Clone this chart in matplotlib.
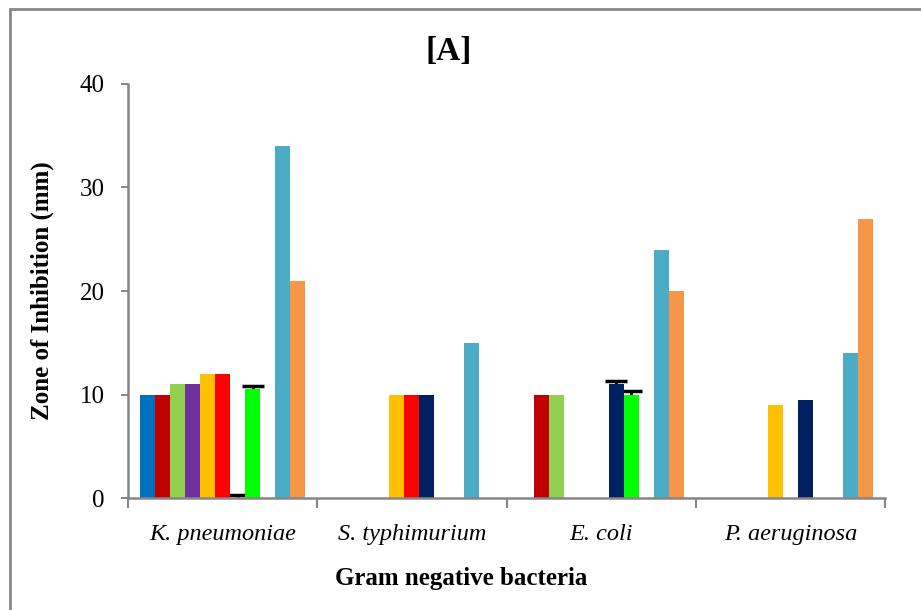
import numpy as np
from matplotlib import pyplot as plt
from matplotlib.patches import Rectangle

# Zone of inhibition (mm) per test bacterium, one list per treatment
bacteria = ['K. pneumoniae', 'S. typhimurium', 'E. coli', 'P. aeruginosa']

colors = ['#0070C0', '#C00000', '#92D050', '#7030A0', '#FFC000', '#FF0000',
          '#002060', '#00FF00', '#FFFFFF', '#4BACC6', '#F79646']

zones = [
    [10, 0, 0, 0],        # blue
    [10, 0, 10, 0],       # dark red
    [11, 0, 10, 0],       # light green
    [11, 0, 0, 0],        # purple
    [12, 10, 0, 9],       # gold
    [12, 10, 0, 0],       # red
    [0, 10, 11, 9.5],     # navy
    [10.5, 0, 10, 0],     # green
    [0, 0, 0, 0],         # (no zone)
    [34, 15, 24, 14],     # light blue
    [21, 0, 20, 27],      # orange
]

# standard deviation, only where shown
errs = [
    [0, 0, 0, 0],
    [0, 0, 0, 0],
    [0, 0, 0, 0],
    [0, 0, 0, 0],
    [0, 0, 0, 0],
    [0, 0, 0, 0],
    [0.3, 0, 0.3, 0],
    [0.35, 0, 0.3, 0],
    [0, 0, 0, 0],
    [0, 0, 0, 0],
    [0, 0, 0, 0],
]

plt.rcParams['font.family'] = ['Liberation Serif', 'DejaVu Serif']

fig = plt.figure(figsize=(9.21, 6.1), dpi=100)
ax = fig.add_axes([0.139, 0.1836, 0.822, 0.6787])

n = len(zones)
width = 0.0793
centers = np.arange(len(bacteria)) + 0.5
for k in range(n):
    x = centers + (k - (n - 1) / 2) * width
    ax.bar(x, zones[k], width, color=colors[k], edgecolor='none', zorder=5)
    e = np.array(errs[k])
    show = e > 0
    if show.any():
        # upper half only: hide the lower cap, stem sits behind the bar
        eb = ax.errorbar(x[show], np.array(zones[k])[show],
                         yerr=[np.zeros(show.sum()), e[show]], fmt='none',
                         ecolor='black', elinewidth=2, capsize=8, capthick=2.5)
        caps = list(eb[1])
        if len(caps) == 2:
            caps[0].set_visible(False)
        for part in caps + list(eb[2]):
            part.set_zorder(2)

ax.set_xlim(0, len(bacteria))
ax.set_ylim(0, 40)
ax.set_yticks([0, 10, 20, 30, 40])

# group labels in the middle, tick marks on the boundaries
ax.set_xticks(centers)
ax.set_xticklabels(bacteria, fontstyle='italic', fontsize=17.5)
ax.set_xticks(np.arange(len(bacteria) + 1), minor=True)
ax.tick_params(axis='x', which='major', length=0, pad=19)
ax.tick_params(axis='x', which='minor', length=7, width=1.5, color='#868686', direction='out')
ax.tick_params(axis='y', length=5, width=1.5, color='#868686', labelsize=18, pad=12)

for s in ['top', 'right']:
    ax.spines[s].set_visible(False)
for s in ['left', 'bottom']:
    ax.spines[s].set_color('#868686')
    ax.spines[s].set_linewidth(1.8)
    ax.spines[s].set_zorder(6)

fig.text(0.4875, 0.915, '[A]', ha='center', va='center', fontsize=24, fontweight='bold')
fig.text(0.5005, 0.052, 'Gram negative bacteria', ha='center', va='center',
         fontsize=18, fontweight='bold')
fig.text(0.046, 0.523, 'Zone of Inhibition (mm)', ha='center', va='center',
         rotation=90, fontsize=18, fontweight='bold')

# chart frame
fig.patches.append(Rectangle((0.0105, -0.05), 1.05, 1.035, transform=fig.transFigure,
                             fill=False, edgecolor='#888888', linewidth=2))

fig.savefig('out.png', dpi=100)
